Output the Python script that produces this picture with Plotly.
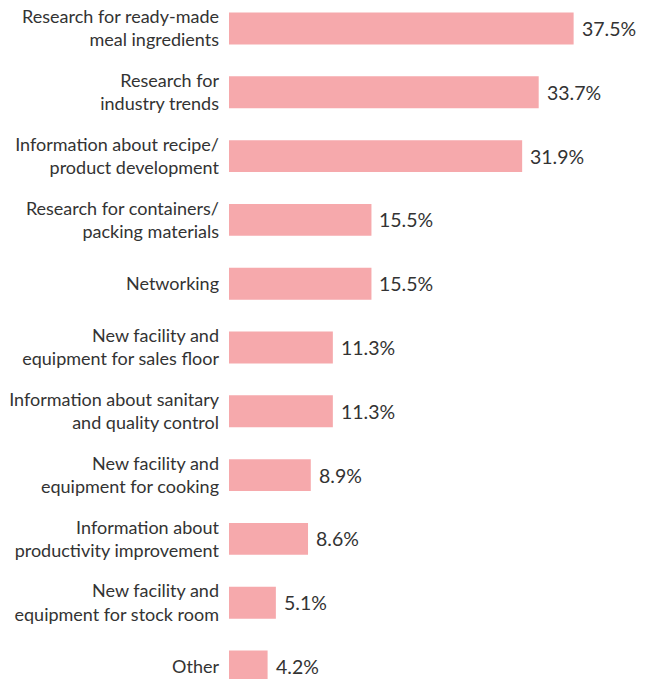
import plotly.graph_objects as go

categories = [
    "Research for ready-made<br>meal ingredients",
    "Research for<br>industry trends",
    "Information about recipe/<br>product development",
    "Research for containers/<br>packing materials",
    "Networking",
    "New facility and<br>equipment for sales floor",
    "Information about sanitary<br>and quality control",
    "New facility and<br>equipment for cooking",
    "Information about<br>productivity improvement",
    "New facility and<br>equipment for stock room",
    "Other",
]
values = [37.5, 33.7, 31.9, 15.5, 15.5, 11.3, 11.3, 8.9, 8.6, 5.1, 4.2]
value_labels = [f"{v:.1f}%" for v in values]

BAR_COLOR = "#F6A9AC"
TEXT_COLOR = "#333333"
FONT = "Lato"

W, H = 645, 679
LEFT = 229
PX_PER_UNIT = 9.19
CAT_STEP = 63.8
FIRST_CENTER = 28.5
LAST_CENTER = FIRST_CENTER + 10 * CAT_STEP

fig = go.Figure()
fig.add_trace(go.Bar(
    x=values,
    y=categories,
    orientation="h",
    marker=dict(color=BAR_COLOR, line=dict(width=0)),
    width=0.5,
    hoverinfo="skip",
))

for c, v, t in zip(categories, values, value_labels):
    fig.add_annotation(
        x=v, y=c, text=t, showarrow=False,
        xanchor="left", yanchor="middle", xshift=6,
        font=dict(family=FONT, size=19.5, color=TEXT_COLOR),
    )

fig.update_layout(
    width=W, height=H,
    margin=dict(l=LEFT, r=0, t=0, b=0, autoexpand=False),
    paper_bgcolor="white", plot_bgcolor="white",
    showlegend=False,
    hovermode=False,
    font=dict(family=FONT, color=TEXT_COLOR),
)
fig.update_xaxes(range=[0, (W - LEFT) / PX_PER_UNIT], visible=False,
                 showgrid=False, zeroline=False)
fig.update_yaxes(
    type="category",
    range=[10 + (H - LAST_CENTER) / CAT_STEP, -FIRST_CENTER / CAT_STEP],
    showgrid=False, zeroline=False, showline=False, automargin=False,
    ticks="", ticklabelstandoff=9,
    tickfont=dict(family=FONT, size=18, color=TEXT_COLOR),
)

fig.write_html(
    "out.html",
    config={"displayModeBar": False, "staticPlot": True},
    post_script="document.body.style.margin='0';",
)
